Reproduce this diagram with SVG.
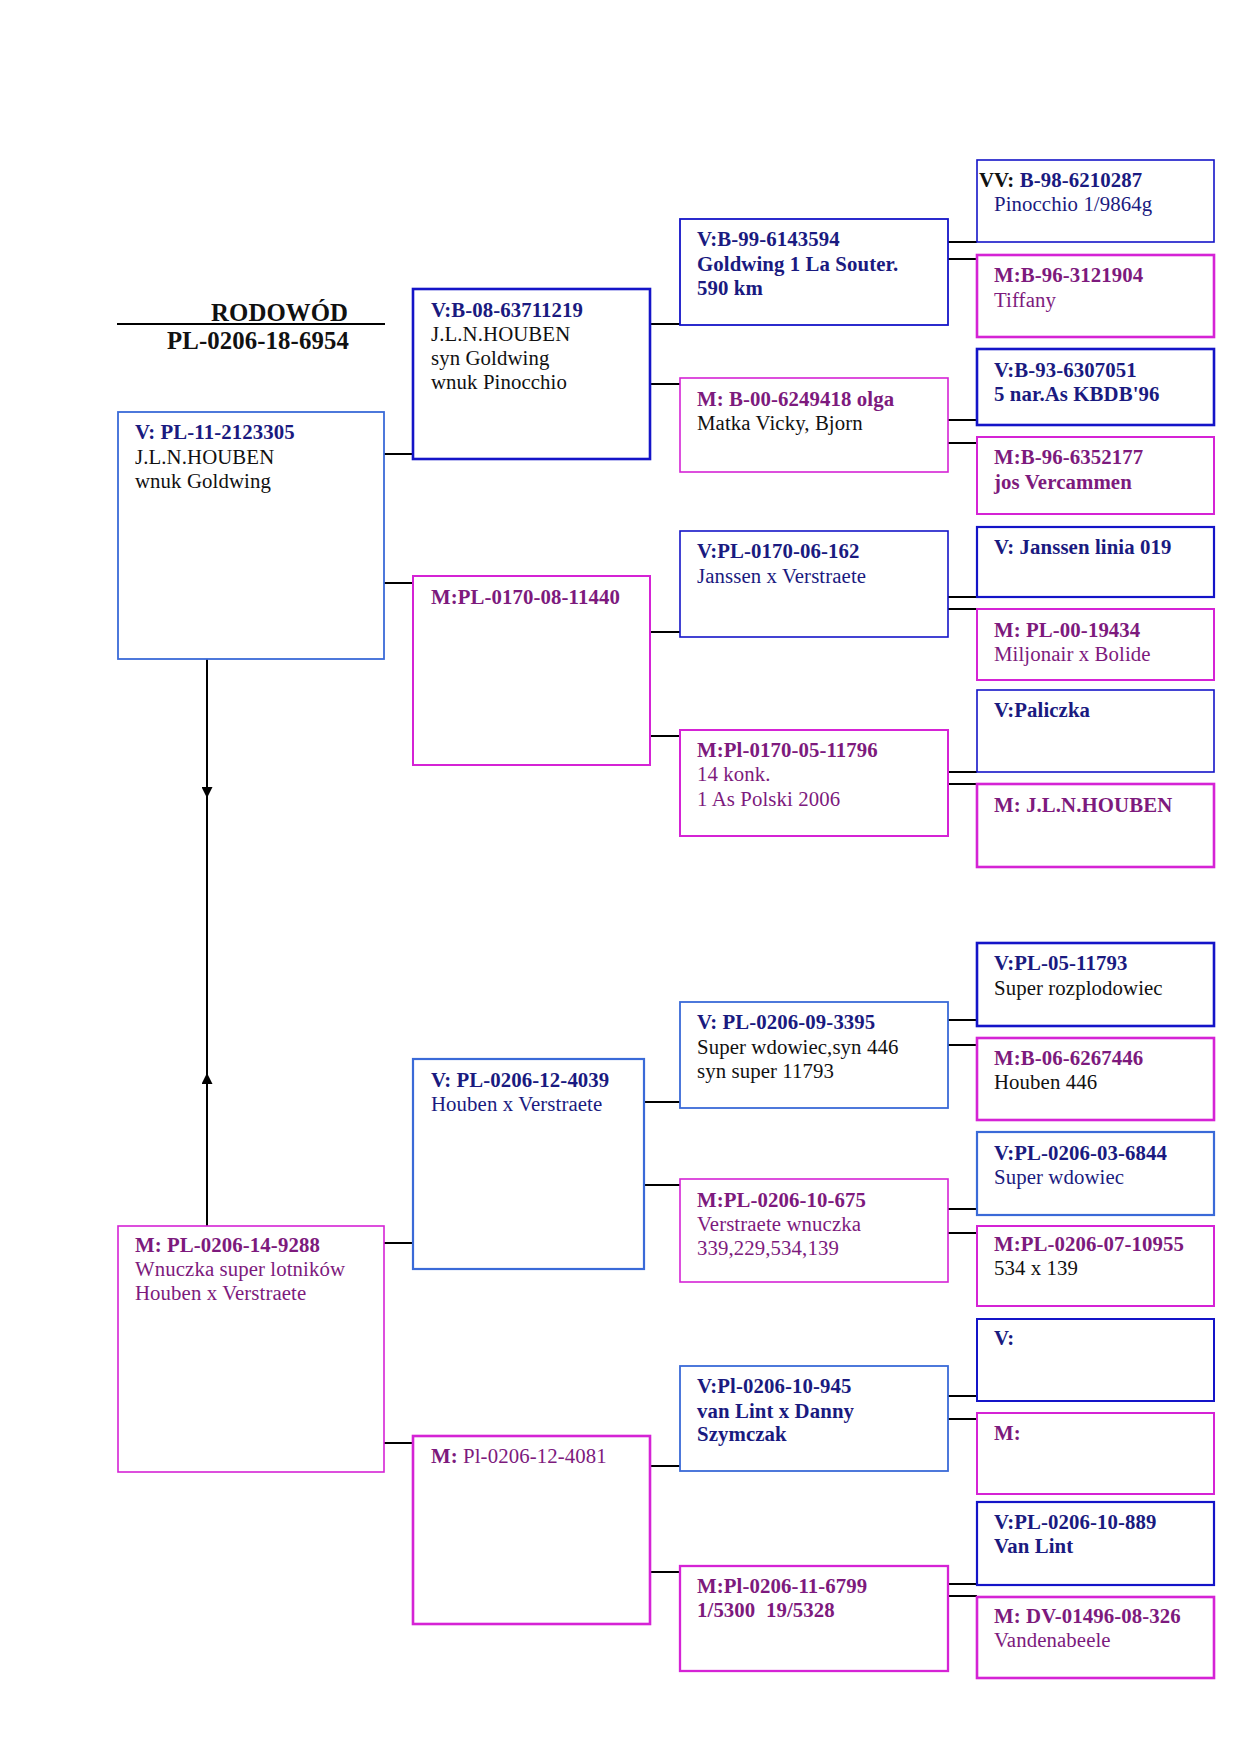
<svg xmlns="http://www.w3.org/2000/svg" width="1240" height="1754" viewBox="0 0 1240 1754">
<style>
text{font-family:"Liberation Serif","Times New Roman",serif;font-size:20.8px;white-space:pre;letter-spacing:0.1px}
.b{font-weight:bold}
.nv{fill:#1a1a80}
.pu{fill:#7d1a7d}
.bk{fill:#111}
.ttl{font-size:24.8px;font-weight:bold;fill:#111}
rect{fill:#fff}
.vb{stroke:#1414c8;stroke-width:2.2}
.vl{stroke:#3a6ad8;stroke-width:1.8}
.mg{stroke:#d523d5;stroke-width:2}
.cn{stroke:#000;stroke-width:2;fill:none}
</style>
<defs>
<marker id="arr" viewBox="0 0 10 10" refX="10" refY="5" markerWidth="11" markerHeight="11" markerUnits="userSpaceOnUse" orient="auto">
<path d="M0,0 L10,5 L0,10 z" fill="#000"/>
</marker>
</defs>

<g id="title">
<line x1="117" y1="324" x2="385" y2="324" stroke="#000" stroke-width="2"/>
<text class="ttl" x="211" y="321">RODOWÓD</text>
<text class="ttl" x="167" y="349">PL-0206-18-6954</text>
</g>

<g id="connectors">
<path class="cn" d="M207,659 V798" marker-end="url(#arr)"/>
<path class="cn" d="M207,788 V1083"/>
<path class="cn" d="M207,1226 V1073" marker-end="url(#arr)"/>
<path class="cn" d="M384,454 H413 M384,583 H413 M384,1243 H413 M384,1443 H413"/>
<path class="cn" d="M650,324 H680 M650,384 H680 M650,632 H680 M650,736 H680 M644,1102 H680 M644,1185 H680 M650,1466 H680 M650,1572 H680"/>
<path class="cn" d="M948,242 H977 M948,259 H977 M948,420 H977 M948,443 H977 M948,597 H977 M948,609 H977 M948,772 H977 M948,784 H977 M948,1020 H977 M948,1045 H977 M948,1209 H977 M948,1233 H977 M948,1396 H977 M948,1419 H977 M948,1584 H977 M948,1596 H977"/>
</g>

<g id="n-v-pl-11-2123305">
<rect class="vl" x="118" y="412" width="266" height="247"/>
<text class="b nv" x="135" y="439">V: PL-11-2123305</text>
<text class="bk" x="135" y="464">J.L.N.HOUBEN</text>
<text class="bk" x="135" y="488">wnuk Goldwing</text>
</g>

<g id="n-m-pl-0206-14-9288">
<rect class="mg" x="118" y="1226" width="266" height="246" style="stroke-width:1.6"/>
<text class="b pu" x="135" y="1252">M: PL-0206-14-9288</text>
<text class="pu" x="135" y="1276">Wnuczka super lotników</text>
<text class="pu" x="135" y="1300">Houben x Verstraete</text>
</g>

<g id="n-v-b-08-63711219">
<rect class="vb" x="413" y="289" width="237" height="170" style="stroke-width:2.6"/>
<text class="b nv" x="431" y="317">V:B-08-63711219</text>
<text class="bk" x="431" y="341">J.L.N.HOUBEN</text>
<text class="bk" x="431" y="365">syn Goldwing</text>
<text class="bk" x="431" y="389">wnuk Pinocchio</text>
</g>

<g id="n-m-pl-0170-08-11440">
<rect class="mg" x="413" y="576" width="237" height="189"/>
<text class="b pu" x="431" y="604">M:PL-0170-08-11440</text>
</g>

<g id="n-v-pl-0206-12-4039">
<rect class="vl" x="413" y="1059" width="231" height="210" style="stroke-width:2.2"/>
<text class="b nv" x="431" y="1087">V: PL-0206-12-4039</text>
<text class="nv" x="431" y="1111">Houben x Verstraete</text>
</g>

<g id="n-m-pl-0206-12-4081">
<rect class="mg" x="413" y="1436" width="237" height="188" style="stroke-width:2.6"/>
<text class="pu" x="431" y="1463"><tspan class="b">M:</tspan> Pl-0206-12-4081</text>
</g>

<g id="n-v-b-99-6143594">
<rect class="vb" x="680" y="219" width="268" height="106" style="stroke-width:1.8"/>
<text class="b nv" x="697" y="246">V:B-99-6143594</text>
<text class="b nv" x="697" y="271">Goldwing 1 La Souter.</text>
<text class="b nv" x="697" y="295">590 km</text>
</g>

<g id="n-m-b-00-6249418">
<rect class="mg" x="680" y="378" width="268" height="94" style="stroke-width:1.6"/>
<text class="b pu" x="697" y="406">M: B-00-6249418 olga</text>
<text class="bk" x="697" y="430">Matka Vicky, Bjorn</text>
</g>

<g id="n-v-pl-0170-06-162">
<rect class="vb" x="680" y="531" width="268" height="106" style="stroke-width:1.6"/>
<text class="b nv" x="697" y="558">V:PL-0170-06-162</text>
<text class="nv" x="697" y="583">Janssen x Verstraete</text>
</g>

<g id="n-m-pl-0170-05-11796">
<rect class="mg" x="680" y="730" width="268" height="106"/>
<text class="b pu" x="697" y="757">M:Pl-0170-05-11796</text>
<text class="pu" x="697" y="781">14 konk.</text>
<text class="pu" x="697" y="806">1 As Polski 2006</text>
</g>

<g id="n-v-pl-0206-09-3395">
<rect class="vl" x="680" y="1002" width="268" height="106"/>
<text class="b nv" x="697" y="1029">V: PL-0206-09-3395</text>
<text class="bk" x="697" y="1054">Super wdowiec,syn 446</text>
<text class="bk" x="697" y="1078">syn super 11793</text>
</g>

<g id="n-m-pl-0206-10-675">
<rect class="mg" x="680" y="1179" width="268" height="103" style="stroke-width:1.6"/>
<text class="b pu" x="697" y="1207">M:PL-0206-10-675</text>
<text class="pu" x="697" y="1231">Verstraete wnuczka</text>
<text class="pu" x="697" y="1255">339,229,534,139</text>
</g>

<g id="n-v-pl-0206-10-945">
<rect class="vl" x="680" y="1366" width="268" height="105"/>
<text class="b nv" x="697" y="1393">V:Pl-0206-10-945</text>
<text class="b nv" x="697" y="1418">van Lint x Danny</text>
<text class="b nv" x="697" y="1441">Szymczak</text>
</g>

<g id="n-m-pl-0206-11-6799">
<rect class="mg" x="680" y="1566" width="268" height="105" style="stroke-width:2.3"/>
<text class="b pu" x="697" y="1593">M:Pl-0206-11-6799</text>
<text class="b pu" x="697" y="1617">1/5300  19/5328</text>
</g>

<g id="n-vv-b-98-6210287">
<rect class="vb" x="977" y="160" width="237" height="82" style="stroke-width:1.6"/>
<text class="b nv" x="979" y="187"><tspan class="bk">VV:</tspan> B-98-6210287</text>
<text class="nv" x="994" y="211">Pinocchio 1/9864g</text>
</g>

<g id="n-m-b-96-3121904">
<rect class="mg" x="977" y="255" width="237" height="82" style="stroke-width:2.6"/>
<text class="b pu" x="994" y="282">M:B-96-3121904</text>
<text class="pu" x="994" y="307">Tiffany</text>
</g>

<g id="n-v-b-93-6307051">
<rect class="vb" x="977" y="349" width="237" height="76" style="stroke-width:2.6"/>
<text class="b nv" x="994" y="377">V:B-93-6307051</text>
<text class="b nv" x="994" y="401">5 nar.As KBDB'96</text>
</g>

<g id="n-m-b-96-6352177">
<rect class="mg" x="977" y="437" width="237" height="77"/>
<text class="b pu" x="994" y="464">M:B-96-6352177</text>
<text class="b pu" x="994" y="489">jos Vercammen</text>
</g>

<g id="n-v-janssen-linia-019">
<rect class="vb" x="977" y="527" width="237" height="70"/>
<text class="b nv" x="994" y="554">V: Janssen linia 019</text>
</g>

<g id="n-m-pl-00-19434">
<rect class="mg" x="977" y="609" width="237" height="71"/>
<text class="b pu" x="994" y="637">M: PL-00-19434</text>
<text class="pu" x="994" y="661">Miljonair x Bolide</text>
</g>

<g id="n-v-paliczka">
<rect class="vb" x="977" y="690" width="237" height="82" style="stroke-width:1.6"/>
<text class="b nv" x="994" y="717">V:Paliczka</text>
</g>

<g id="n-m-jln-houben">
<rect class="mg" x="977" y="784" width="237" height="83" style="stroke-width:2.6"/>
<text class="b pu" x="994" y="812">M: J.L.N.HOUBEN</text>
</g>

<g id="n-v-pl-05-11793">
<rect class="vb" x="977" y="943" width="237" height="83" style="stroke-width:2.6"/>
<text class="b nv" x="994" y="970">V:PL-05-11793</text>
<text class="bk" x="994" y="995">Super rozplodowiec</text>
</g>

<g id="n-m-b-06-6267446">
<rect class="mg" x="977" y="1038" width="237" height="82" style="stroke-width:2.6"/>
<text class="b pu" x="994" y="1065">M:B-06-6267446</text>
<text class="bk" x="994" y="1089">Houben 446</text>
</g>

<g id="n-v-pl-0206-03-6844">
<rect class="vl" x="977" y="1132" width="237" height="83" style="stroke-width:2.2"/>
<text class="b nv" x="994" y="1160">V:PL-0206-03-6844</text>
<text class="nv" x="994" y="1184">Super wdowiec</text>
</g>

<g id="n-m-pl-0206-07-10955">
<rect class="mg" x="977" y="1226" width="237" height="80"/>
<text class="b pu" x="994" y="1251">M:PL-0206-07-10955</text>
<text class="bk" x="994" y="1275">534 x 139</text>
</g>

<g id="n-v-empty">
<rect class="vb" x="977" y="1319" width="237" height="82" style="stroke-width:2"/>
<text class="b nv" x="994" y="1345">V:</text>
</g>

<g id="n-m-empty">
<rect class="mg" x="977" y="1413" width="237" height="81"/>
<text class="b pu" x="994" y="1440">M:</text>
</g>

<g id="n-v-pl-0206-10-889">
<rect class="vb" x="977" y="1502" width="237" height="83"/>
<text class="b nv" x="994" y="1529">V:PL-0206-10-889</text>
<text class="b nv" x="994" y="1553">Van Lint</text>
</g>

<g id="n-m-dv-01496-08-326">
<rect class="mg" x="977" y="1597" width="237" height="81" style="stroke-width:2.6"/>
<text class="b pu" x="994" y="1623">M: DV-01496-08-326</text>
<text class="pu" x="994" y="1647">Vandenabeele</text>
</g>
</svg>
